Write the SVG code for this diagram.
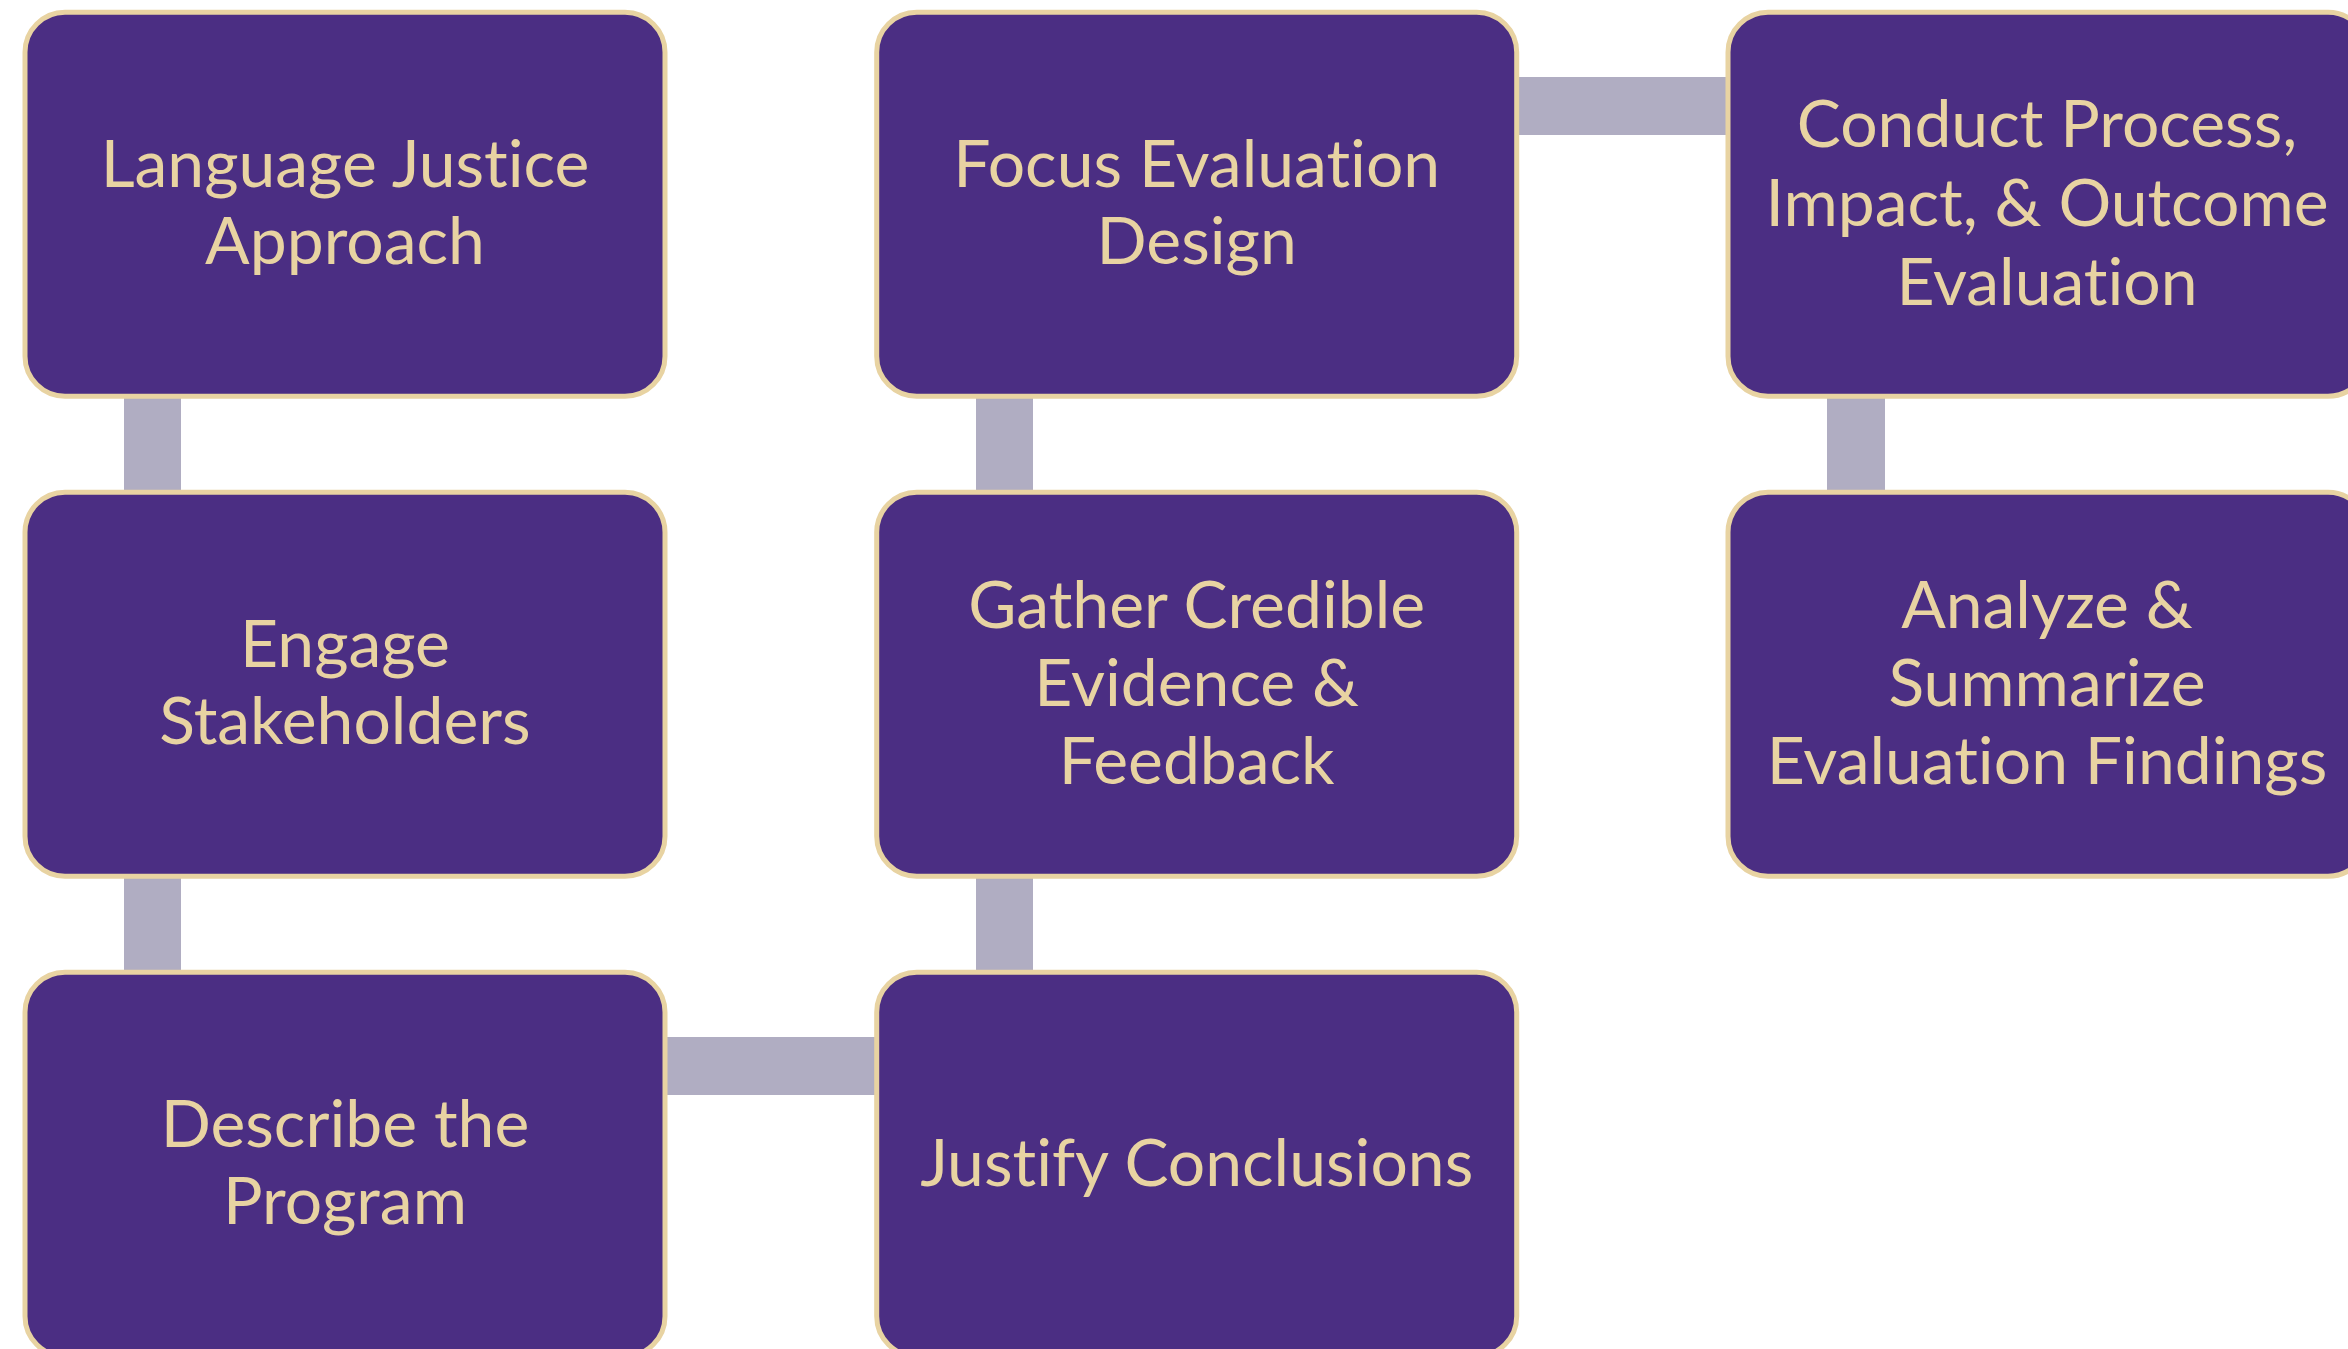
<svg xmlns="http://www.w3.org/2000/svg" width="2348" height="1349" viewBox="0 0 2348 1349">
<style>
.box{fill:#4B2E83;stroke:#E8D3A2;stroke-width:5}
.conn{fill:#B0ADC2}
.lbl{font-family:Lato,"Liberation Sans",sans-serif;font-size:66px;fill:#E8D3A2;text-anchor:middle;font-variant-ligatures:none;font-feature-settings:"liga" 0}
</style>
<rect width="2348" height="1349" fill="#FFFFFF"/>
<g id="connectors">
<rect class="conn" x="124" y="396" width="57" height="96"/>
<rect class="conn" x="124" y="876" width="57" height="96"/>
<rect class="conn" x="665" y="1037" width="212" height="58"/>
<rect class="conn" x="976" y="876" width="57" height="96"/>
<rect class="conn" x="976" y="396" width="57" height="96"/>
<rect class="conn" x="1517" y="77" width="211" height="58"/>
<rect class="conn" x="1827" y="396" width="58" height="96"/>
</g>
<g id="n1">
<rect class="box" x="25" y="12.3" width="640" height="384" rx="40"/>
<text class="lbl"><tspan x="345" y="187">Language Justice</tspan><tspan x="345" y="264">Approach</tspan></text>
</g>
<g id="n2">
<rect class="box" x="25" y="492.3" width="640" height="384" rx="40"/>
<text class="lbl"><tspan x="345" y="667">Engage</tspan><tspan x="345" y="744">Stakeholders</tspan></text>
</g>
<g id="n3">
<rect class="box" x="25" y="972.3" width="640" height="384" rx="40"/>
<text class="lbl"><tspan x="345" y="1147">Describe the</tspan><tspan x="345" y="1224">Program</tspan></text>
</g>
<g id="n4">
<rect class="box" x="876.7" y="972.3" width="640" height="384" rx="40"/>
<text class="lbl"><tspan x="1196.7" y="1186">Justify Conclusions</tspan></text>
</g>
<g id="n5">
<rect class="box" x="876.7" y="492.3" width="640" height="384" rx="40"/>
<text class="lbl"><tspan x="1196.7" y="628">Gather Credible</tspan><tspan x="1196.7" y="706">Evidence &amp;</tspan><tspan x="1196.7" y="784">Feedback</tspan></text>
</g>
<g id="n6">
<rect class="box" x="876.7" y="12.3" width="640" height="384" rx="40"/>
<text class="lbl"><tspan x="1196.7" y="187">Focus Evaluation</tspan><tspan x="1196.7" y="264">Design</tspan></text>
</g>
<g id="n7">
<rect class="box" x="1728" y="12.3" width="640" height="384" rx="40"/>
<text class="lbl"><tspan x="2047" y="147">Conduct Process,</tspan><tspan x="2047" y="226">Impact, &amp; Outcome</tspan><tspan x="2047" y="305">Evaluation</tspan></text>
</g>
<g id="n8">
<rect class="box" x="1728" y="492.3" width="640" height="384" rx="40"/>
<text class="lbl"><tspan x="2047" y="628">Analyze &amp;</tspan><tspan x="2047" y="706">Summarize</tspan><tspan x="2047" y="784">Evaluation Findings</tspan></text>
</g>
</svg>
